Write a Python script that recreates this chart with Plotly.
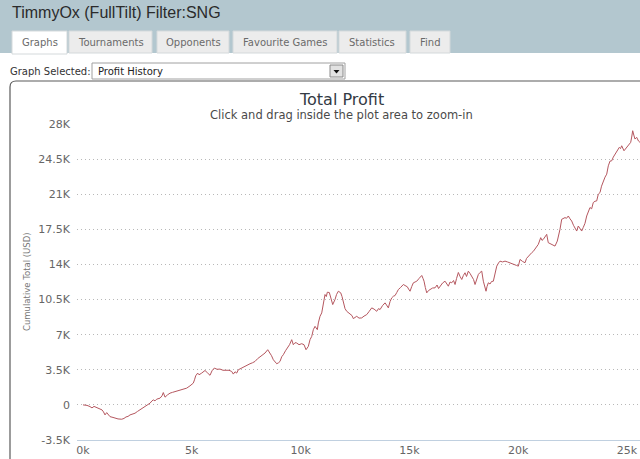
import plotly.graph_objects as go

# tournaments played vs cumulative profit (USD)
tournaments = [
    0, 184, 322, 414, 506, 643, 781, 873, 942, 1011, 1089, 1149, 1241, 1379, 1471, 1609,
    1779, 1884, 1976, 2068, 2160, 2275, 2390, 2505, 2620, 2735, 2850, 2964, 3079, 3171,
    3231, 3309, 3387, 3539, 3631, 3691, 3769, 3884, 3999, 4114, 4228, 4366, 4536, 4642,
    4766, 4917, 5069, 5124, 5179, 5271, 5331, 5455, 5538, 5607, 5731, 5837, 5929, 6034,
    6159, 6296, 6434, 6604, 6710, 6834, 6908, 6986, 7064, 7137, 7262, 7367, 7524, 7675,
    7790, 7905, 8020, 8135, 8250, 8365, 8489, 8549, 8595, 8664, 8747, 8825, 8903, 8986,
    9054, 9133, 9206, 9307, 9390, 9491, 9592, 9665, 9743, 9821, 9927, 10051, 10157, 10249,
    10355, 10433, 10511, 10585, 10663, 10769, 10815, 10893, 10971, 11017, 11122, 11182,
    11228, 11320, 11375, 11476, 11582, 11651, 11734, 11844, 11904, 11963, 12041, 12119,
    12202, 12271, 12363, 12423, 12501, 12579, 12685, 12809, 12915, 13039, 13145, 13269,
    13375, 13499, 13582, 13651, 13766, 13881, 13950, 14032, 14111, 14189, 14263, 14341,
    14419, 14493, 14593, 14722, 14800, 14906, 14961, 15030, 15108, 15182, 15260, 15338,
    15443, 15568, 15627, 15673, 15733, 15797, 15880, 15949, 16064, 16179, 16271, 16340,
    16409, 16524, 16638, 16716, 16790, 16868, 16946, 17029, 17098, 17167, 17250, 17328,
    17406, 17480, 17557, 17626, 17709, 17787, 17865, 17948, 18017, 18086, 18169, 18247,
    18325, 18398, 18453, 18522, 18568, 18628, 18706, 18775, 18858, 18936, 19014, 19097,
    19165, 19280, 19395, 19510, 19625, 19740, 19855, 19924, 20006, 20084, 20199, 20314,
    20383, 20465, 20543, 20621, 20695, 20773, 20842, 20924, 21035, 21094, 21154, 21232,
    21310, 21383, 21461, 21539, 21622, 21691, 21797, 21861, 21921, 21999, 22073, 22151,
    22220, 22303, 22381, 22459, 22542, 22611, 22689, 22762, 22840, 22918, 22992, 23070,
    23148, 23221, 23299, 23377, 23451, 23529, 23607, 23681, 23761, 23830, 23912, 23990,
    24068, 24105, 24141, 24219, 24297, 24371, 24449, 24541, 24647, 24702, 24757, 24862,
    24954, 25060, 25170, 25216, 25262, 25313, 25368, 25446, 25529, 25598, 25690,
]
profit = [
    0, -50, -170, -300, -150, -270, -400, -500, -700, -1000, -770, -950, -1170, -1250, -1330, -1400,
    -1430, -1350, -1200, -1150, -1000, -900, -830, -650, -500, -350, -170, -50, 170, 400,
    500, 400, 570, 670, 900, 1230, 770, 1000, 1170, 1250, 1330, 1400, 1500, 1550,
    1670, 1900, 2170, 2500, 2900, 3170, 3000, 3170, 3300, 3430, 3170, 2950, 3400, 3670,
    3550, 3570, 3450, 3430, 3450, 3330, 3070, 3300, 3170, 3500, 3650, 3770, 3950, 4100,
    4200, 4330, 4600, 4770, 4950, 5170, 5500, 5300, 5170, 4900, 4500, 4250, 4100, 4200,
    4330, 4800, 5000, 5400, 5670, 6000, 6500, 6000, 6200, 6170, 6000, 6100, 6000, 5500,
    5830, 6500, 6830, 7500, 7830, 7500, 8170, 8830, 9170, 9830, 11000, 10800,
    11230, 11200, 10800, 10000, 10500, 11000, 11330, 11170, 10800, 10170, 9600, 9330,
    9150, 9000, 8900, 8600, 8750, 8830, 8650, 8670, 8850, 9000, 9300, 9670,
    9550, 9330, 9600, 9500, 9900, 10170, 9950, 9670, 10300, 10670, 10830, 10900,
    11200, 11500, 11700, 12000, 11900, 11770, 11550, 11330, 11800, 12170, 12250, 12330,
    12600, 12900, 12600, 12330, 11700, 11170, 11400, 11500, 11650, 11670, 11950, 11600,
    11830, 12150, 12330, 12000, 11830, 12250, 12170, 12400, 12000, 12600, 13200, 12800,
    12500, 12900, 13170, 12800, 13330, 13100, 12830, 12500, 12000, 12400, 13000, 13200,
    13330, 12330, 11800, 11330, 11800, 12170, 12050, 12300, 12330, 13100, 13830, 14150,
    14330, 14250, 14330, 14250, 14170, 14100, 14000, 13900, 13830, 14500, 14300, 14170,
    14600, 14830, 14950, 15170, 15300, 15500, 15700, 16000, 16670, 16400, 16500, 16750,
    17000, 16170, 16100, 16000, 15950, 15830, 16330, 16900, 17500, 18500, 18550, 18670,
    18600, 18830, 18550, 18330, 17900, 17670, 17330, 17830, 17550, 17330, 17700, 18100,
    18830, 19330, 19670, 19550, 20170, 20300, 20330, 21000, 21170, 21800, 22330, 22700,
    23000, 23500, 23830, 24300, 24330, 24700, 25000, 25300, 25670, 25550, 25830, 25330,
    25600, 25830, 26170, 26700, 27330, 26900, 26500, 26670, 26300, 26170, 26000,
]

y_ticks = [-3500, 0, 3500, 7000, 10500, 14000, 17500, 21000, 24500, 28000]
y_labels = ['-3.5K', '0', '3.5K', '7K', '10.5K', '14K', '17.5K', '21K', '24.5K', '28K']
x_ticks = [0, 5000, 10000, 15000, 20000, 25000]
x_labels = ['0k', '5k', '10k', '15k', '20k', '25k']

tabs = ['Graphs', 'Tournaments', 'Opponents', 'Favourite Games', 'Statistics', 'Find']
tab_edges = [(12, 67), (69, 152), (157, 229), (233, 337), (339, 406), (410, 450)]

W, H = 640, 459
ML, MR, MT, MB = 77, 0, 124, 19
PW, PH = W - ML - MR, H - MT - MB


def px(x):
    return (x - ML) / PW


def py(y):
    return (H - MB - y) / PH


fig = go.Figure()
fig.add_trace(go.Scatter(
    x=tournaments, y=profit, mode='lines',
    line=dict(color='#b5575f', width=1),
    hoverinfo='skip', showlegend=False,
))

shapes = []
# header band
shapes.append(dict(type='rect', xref='paper', yref='paper',
                   x0=px(0), x1=px(W), y0=py(53), y1=py(0),
                   fillcolor='#b3c7cf', line_width=0, layer='below'))
# tabs
for i, (a, b) in enumerate(tab_edges):
    shapes.append(dict(type='rect', xref='paper', yref='paper',
                       x0=px(a), x1=px(b), y0=py(53 if i else 54), y1=py(31),
                       fillcolor='white' if i == 0 else '#ececec',
                       line=dict(color='#d4d9db', width=1), layer='below'))
# dropdown
shapes.append(dict(type='rect', xref='paper', yref='paper',
                   x0=px(92), x1=px(345), y0=py(79), y1=py(63),
                   fillcolor='white', line=dict(color='#a0a0a0', width=1)))
shapes.append(dict(type='rect', xref='paper', yref='paper',
                   x0=px(330), x1=px(343), y0=py(77), y1=py(65),
                   fillcolor='#e2e2e2', line=dict(color='#8a8a8a', width=1)))
shapes.append(dict(type='path', xref='paper', yref='paper',
                   path='M %f,%f L %f,%f L %f,%f Z' % (px(333.5), py(70), px(339.5), py(70), px(336.5), py(73.5)),
                   fillcolor='#111', line_width=0))
# chart frame with rounded corner
frame = 'M %f,%f L %f,%f Q %f,%f %f,%f L %f,%f' % (
    px(10), py(470), px(10), py(87), px(10), py(81), px(16), py(81), px(650), py(81))
shapes.append(dict(type='path', xref='paper', yref='paper', path=frame,
                   line=dict(color='#5a5a5a', width=1.2)))

annotations = [
    dict(text='TimmyOx (FullTilt) Filter:SNG', x=px(10), y=py(13), xanchor='left', yanchor='middle',
         font=dict(family='Liberation Sans', size=16, color='#2b2b2b')),
    dict(text='Graph Selected:', x=px(8), y=py(71), xanchor='left', yanchor='middle',
         font=dict(family='DejaVu Sans', size=10, color='#333')),
    dict(text='Profit History', x=px(96), y=py(71), xanchor='left', yanchor='middle',
         font=dict(family='DejaVu Sans', size=10, color='#222')),
    dict(text='Total Profit', x=px(341), y=py(99), xanchor='center', yanchor='middle',
         font=dict(family='DejaVu Sans', size=16, color='#333a44')),
    dict(text='Click and drag inside the plot area to zoom-in', x=px(341), y=py(115),
         xanchor='center', yanchor='middle',
         font=dict(family='DejaVu Sans', size=11.5, color='#4a4a4a')),
    dict(text='Cumulative Total (USD)', x=px(27), y=py(282), xanchor='center', yanchor='middle',
         textangle=-90, font=dict(family='DejaVu Sans', size=8.5, color='#777')),
]
for name, (a, b) in zip(tabs, tab_edges):
    annotations.append(dict(text=name, x=px((a + b) / 2), y=py(43), xanchor='center', yanchor='middle',
                            font=dict(family='DejaVu Sans', size=10, color='#6a6a6a')))
for a in annotations:
    a.update(xref='paper', yref='paper', showarrow=False)

fig.update_layout(
    width=W, height=H, autosize=False,
    margin=dict(l=ML, r=MR, t=MT, b=MB, pad=0),
    paper_bgcolor='white', plot_bgcolor='white',
    shapes=shapes, annotations=annotations,
    font=dict(family='DejaVu Sans', size=11, color='#666'),
    xaxis=dict(range=[-276, 25598], tickvals=x_ticks, ticktext=x_labels,
               showgrid=False, zeroline=False, showline=True, linecolor='#c0d0e0', linewidth=1,
               ticks='', tickfont=dict(size=11, color='#666')),
    yaxis=dict(range=[-3500, 28000], tickvals=y_ticks, ticktext=y_labels,
               showgrid=True, gridcolor='#b8b8b8', griddash='1px,3px', gridwidth=1,
               zeroline=False, showline=False, ticks='', ticklabelstandoff=6,
               tickfont=dict(size=11, color='#666')),
)

# the page body has a default margin; drop it so the figure sits at the window corner
fig.write_html('out.html', config={'displayModeBar': False},
               post_script="document.body.style.margin='0';")
